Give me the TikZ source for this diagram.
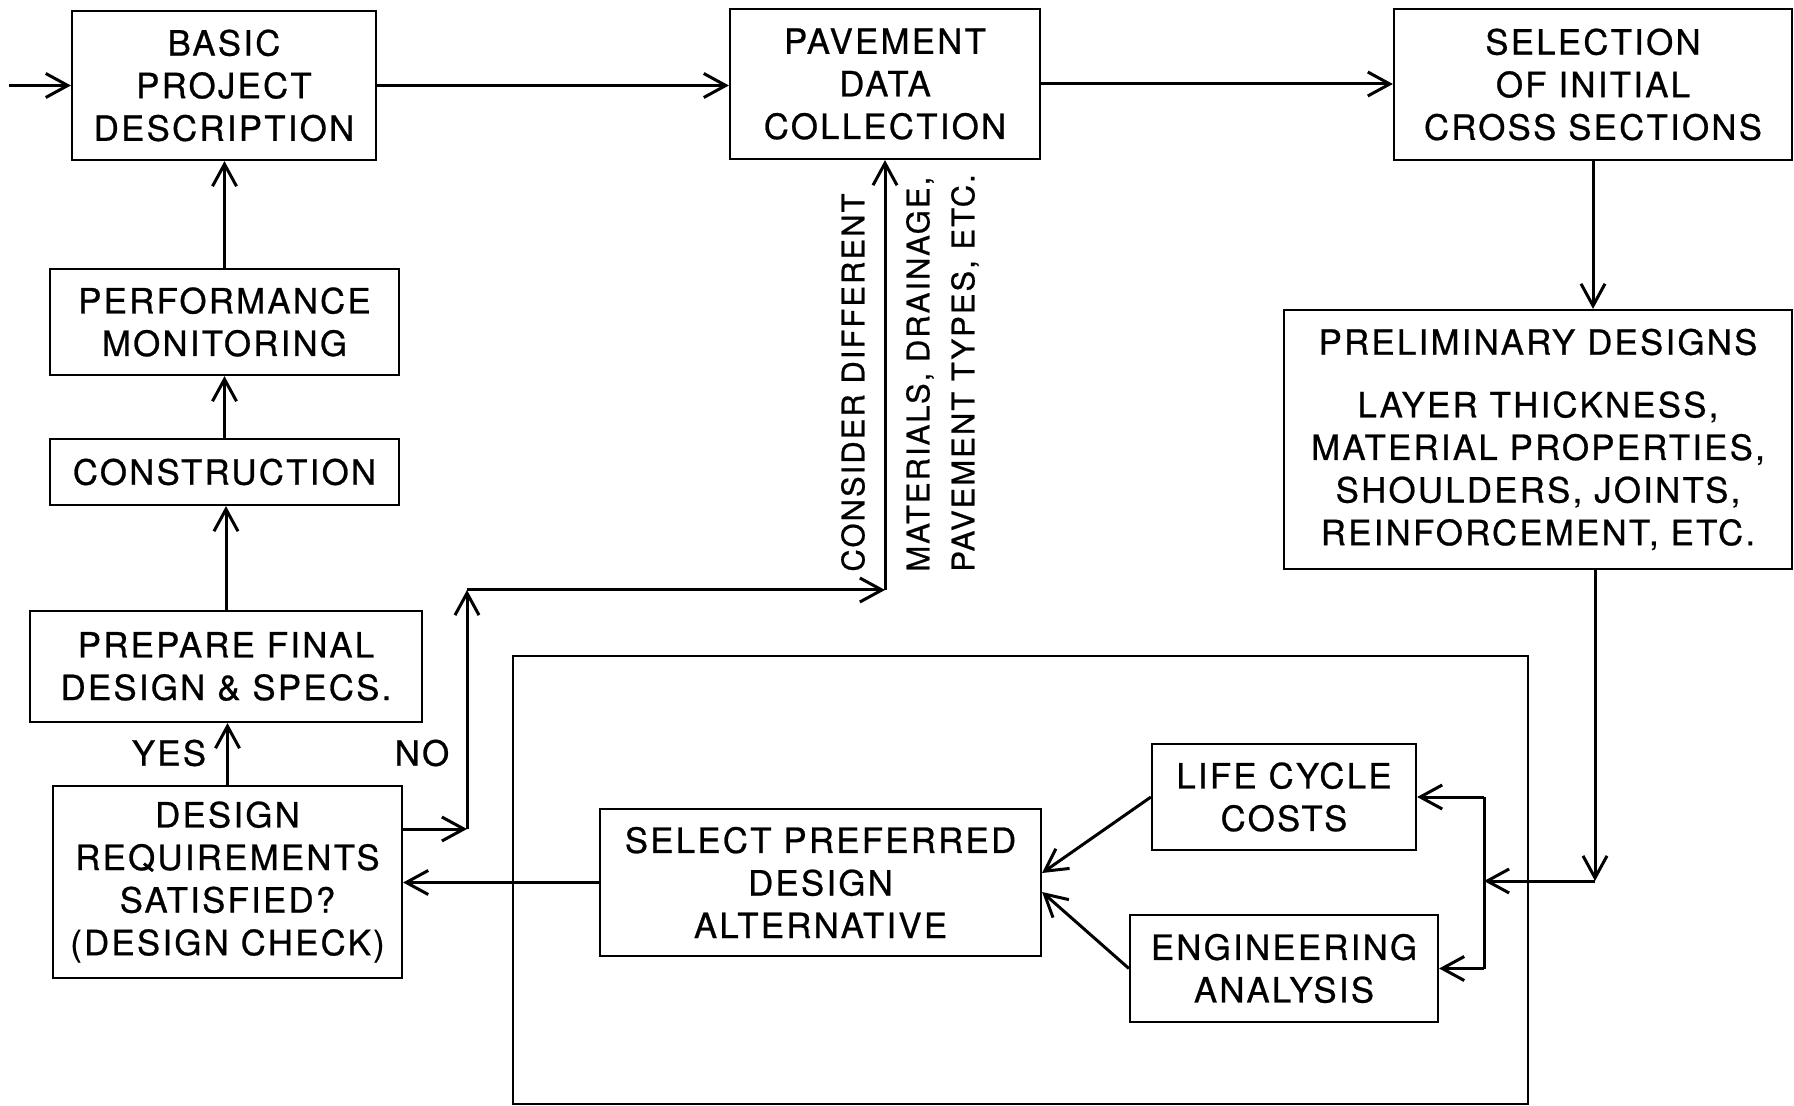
\documentclass[tikz,border=0pt]{standalone}
\usepackage{fontspec}
\setmainfont{TeX Gyre Heros}[LetterSpace=6.5,FakeBold=0.7]
\usetikzlibrary{arrows.meta}
\begin{document}
\begin{tikzpicture}[x=0.5pt,y=-0.5pt,
  box/.style={draw, line width=1.1pt, inner sep=0pt, align=center,
    font={\fontsize{17.4pt}{21.3pt}\selectfont}},
  lbl/.style={inner sep=0pt, font={\fontsize{17.4pt}{21.3pt}\selectfont}},
  vtext/.style={inner sep=0pt, rotate=90, anchor=west,
    font={\fontsize{15.5pt}{19pt}\selectfont}},
  arr/.style={line width=1.5pt, -{Straight Barb[length=11pt,width=12pt,line width=1.5pt]}},
  plain/.style={line width=1.5pt},
  framebox/.style={draw, line width=0.9pt, inner sep=0pt}]
\useasboundingbox[fill=white] (0,0) rectangle (1794,1106);

% large frame
\node[framebox, minimum width=507.5pt, minimum height=224pt] (frame) at (1020.5,880) {};

% boxes
\node[box, minimum width=152pt, minimum height=74.5pt] (bpd) at (224,85.5) {BASIC\\PROJECT\\DESCRIPTION};
\node[box, minimum width=155pt, minimum height=75pt] (pdc) at (885,84) {PAVEMENT\\DATA\\COLLECTION};
\node[box, minimum width=199pt, minimum height=75.5pt] (sel) at (1593,84.5) {SELECTION\\OF INITIAL\\CROSS SECTIONS};
\node[box, minimum width=174.5pt, minimum height=53pt] (pm) at (224.5,322) {PERFORMANCE\\MONITORING};
\node[box, minimum width=174.5pt, minimum height=33pt] (con) at (224.5,472) {CONSTRUCTION};
\node[box, minimum width=196pt, minimum height=55.5pt] (pfd) at (226,666.5) {PREPARE FINAL\\DESIGN \& SPECS.};
\node[box, minimum width=174.5pt, minimum height=96pt] (drs) at (227.5,882) {DESIGN\\REQUIREMENTS\\SATISFIED?\\(DESIGN CHECK)};
\node[box, minimum width=254pt, minimum height=129.5pt] (pre) at (1538,439.5) {PRELIMINARY DESIGNS\\[10pt]LAYER THICKNESS,\\MATERIAL PROPERTIES,\\SHOULDERS, JOINTS,\\REINFORCEMENT, ETC.};
\node[box, minimum width=132pt, minimum height=53pt] (lcc) at (1284,797) {LIFE CYCLE\\COSTS};
\node[box, minimum width=154pt, minimum height=53.5pt] (eng) at (1284,968.5) {ENGINEERING\\ANALYSIS};
\node[box, minimum width=220.5pt, minimum height=73.5pt] (spd) at (820.5,882.5) {SELECT PREFERRED\\DESIGN\\ALTERNATIVE};

% labels
\node[lbl] (yes) at (169,753) {YES};
\node[lbl] (no) at (422,753) {NO};
\node[vtext] (t1) at (853,572) {CONSIDER DIFFERENT};
\node[vtext] (t2) at (920,572) {MATERIALS, DRAINAGE,};
\node[vtext] (t3) at (965,572) {PAVEMENT TYPES, ETC.};

% top row
\coordinate (in) at (9,85.5);
\draw[arr] (in) -- (bpd.west);
\draw[arr] (bpd.east) -- (bpd.east -| pdc.west);
\draw[arr] (pdc.east) -- (pdc.east -| sel.west);

% right column
\draw[arr] (sel.south) -- (sel.south |- pre.north);
\coordinate (c1) at (1595,881);
\coordinate (c2) at (1484,881);
\draw[arr] (c1 |- pre.south) -- (c1);
\draw[arr] (c1) -- (c2);
\draw[plain] (c2 |- lcc.east) -- (c2 |- eng.east);
\draw[arr] (c2 |- lcc.east) -- (lcc.east);
\draw[arr] (c2 |- eng.east) -- (eng.east);
\draw[arr] (lcc.west) -- ([yshift=4.75pt]spd.east);
\draw[arr] (eng.west) -- ([yshift=-4.75pt]spd.east);
\draw[arr] (spd.west) -- (spd.west -| drs.east);

% NO loop
\coordinate (n1) at (467,829);
\coordinate (n2) at (467,590);
\coordinate (n3) at (885,590);
\draw[arr] (drs.east |- n1) -- (n1);
\draw[arr] (n1) -- (n2);
\draw[arr] (n2) -- (n3);
\draw[arr] (n3) -- (pdc.south);

% left column
\draw[arr] (drs.north) -- (drs.north |- pfd.south);
\draw[arr] (pfd.north) -- (pfd.north |- con.south);
\draw[arr] (con.north) -- (con.north |- pm.south);
\draw[arr] (pm.north) -- (pm.north |- bpd.south);
\end{tikzpicture}
\end{document}
